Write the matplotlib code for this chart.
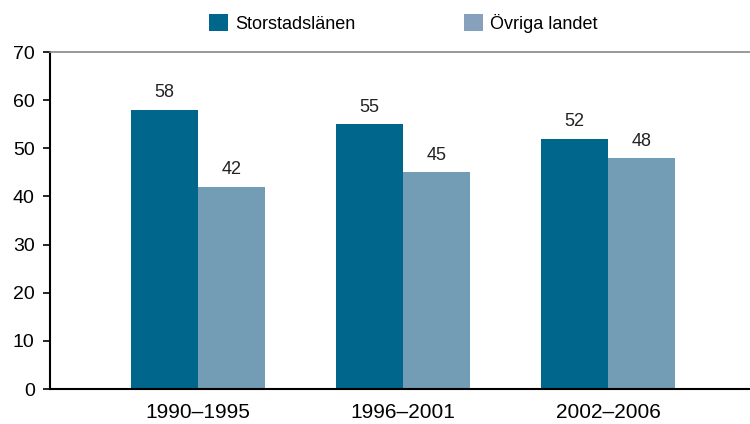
import numpy as np
import matplotlib
matplotlib.use("Agg")
import matplotlib.pyplot as plt
from matplotlib.patches import Patch

plt.rcParams['font.family'] = ['Liberation Sans', 'DejaVu Sans']

periods = ["1990\u20131995", "1996\u20132001", "2002\u20132006"]
storstad = [58, 55, 52]
ovriga = [42, 45, 48]
series_names = ["Storstadslänen", "Övriga landet"]
colors = ["#00668C", "#739CB5"]
legend_colors = ["#00668C", "#87A1BC"]

fig = plt.figure(figsize=(7.5, 4.24), dpi=100)
ax = fig.add_axes([50 / 750, 35 / 424, 700 / 750, 337 / 424])

x = np.arange(len(periods))
w = 0.327
b1 = ax.bar(x - w / 2, storstad, w, color=colors[0])
b2 = ax.bar(x + w / 2, ovriga, w, color=colors[1])

for bars in (b1, b2):
    for rect in bars:
        ax.annotate(f"{rect.get_height():.0f}",
                    (rect.get_x() + rect.get_width() / 2, rect.get_height()),
                    xytext=(0, 6), textcoords="offset points",
                    ha="center", va="bottom", fontsize=13, color="#222222")

ax.set_xlim(-0.722, 2.693)
ax.set_ylim(0, 70)
ax.set_yticks(range(0, 71, 10))
ax.set_xticks(x)
ax.set_xticklabels(periods, fontsize=15)
ax.tick_params(axis="y", labelsize=14, length=5, width=1.2, direction="out", pad=6)
ax.tick_params(axis="x", length=0, pad=10)

ax.spines["right"].set_visible(False)
ax.spines["top"].set_color("#888888")
ax.spines["top"].set_linewidth(1.2)
ax.spines["left"].set_linewidth(1.5)
ax.spines["bottom"].set_linewidth(1.5)

handles = [Patch(facecolor=c) for c in legend_colors]
fig.legend(handles=handles, labels=series_names, loc="center left",
           bbox_to_anchor=(209 / 750, 1 - 23.5 / 424), ncol=2, frameon=False,
           fontsize=13, handlelength=1.05, handleheight=1.05,
           columnspacing=6.0, handletextpad=0.4, borderpad=0, borderaxespad=0)

fig.savefig("out.png", dpi=100)
